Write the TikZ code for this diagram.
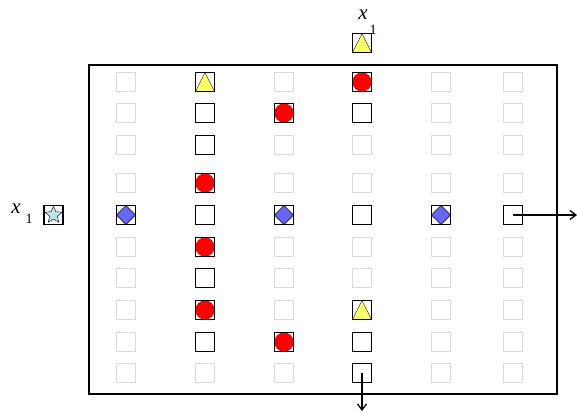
\documentclass[tikz,border=0pt]{standalone}
\usepackage{fontspec}
\setmainfont{Liberation Serif}
\usepackage{xcolor}
\usepackage{tikz}
\usetikzlibrary{arrows.meta,positioning,shapes.geometric}

\definecolor{cellgrey}{HTML}{DADADA}
\definecolor{triyellow}{HTML}{FFFF66}
\definecolor{diablue}{HTML}{6666FF}
\definecolor{starcyan}{HTML}{B8E4EA}

\begin{document}
\begin{tikzpicture}[x=1pt,y=-1pt,>={Straight Barb[length=6pt,width=9pt]},
  greycell/.style={draw=cellgrey,line width=1.7pt,minimum size=19pt,inner sep=0pt},
  blackcell/.style={draw=black,line width=1.1pt,fill=white,minimum size=19pt,inner sep=0pt},
  redcell/.style={blackcell,path picture={
      \fill[red] (path picture bounding box.center) circle (9.6pt);}},
  tricell/.style={blackcell,path picture={
      \filldraw[fill=triyellow,draw=black,line width=0.4pt]
        (path picture bounding box.south west) -- (path picture bounding box.south east)
        -- (path picture bounding box.north) -- cycle;}},
  diacell/.style={blackcell,path picture={
      \filldraw[fill=diablue,draw=black,line width=0.4pt]
        (path picture bounding box.north) -- (path picture bounding box.east)
        -- (path picture bounding box.south) -- (path picture bounding box.west) -- cycle;}},
  starcell/.style={blackcell,path picture={
      \node[star,star points=5,star point ratio=2.2,fill=starcyan,draw=black,line width=0.4pt,
        minimum size=18pt,inner sep=0pt] at (path picture bounding box.center) {};}},
  varname/.style={font=\fontsize{21}{22}\selectfont\itshape,inner sep=0pt},
  varsub/.style={font=\fontsize{14}{15}\selectfont,inner sep=0pt}
]
  \useasboundingbox (0,0) rectangle (577,413);

  % frame
  \draw[line width=1.6pt] (89,65) rectangle (557,394);

  % grid of cells
  \foreach \cx [count=\i] in {126,205,284,362,441,513}
    \foreach \ry [count=\j] in {82,113,145,183,215,247,278,310,342,373}
      \node[greycell] (g\j-\i) at (\cx,\ry) {};

  % marked cells
  \node[tricell]   (c1-2) at (g1-2) {};
  \node[redcell]   (c1-4) at (g1-4) {};
  \node[blackcell] (c2-2) at (g2-2) {};
  \node[redcell]   (c2-3) at (g2-3) {};
  \node[blackcell] (c2-4) at (g2-4) {};
  \node[blackcell] (c3-2) at (g3-2) {};
  \node[redcell]   (c4-2) at (g4-2) {};
  \node[diacell]   (c5-1) at (g5-1) {};
  \node[blackcell] (c5-2) at (g5-2) {};
  \node[diacell]   (c5-3) at (g5-3) {};
  \node[blackcell] (c5-4) at (g5-4) {};
  \node[diacell]   (c5-5) at (g5-5) {};
  \node[blackcell] (c5-6) at (g5-6) {};
  \node[redcell]   (c6-2) at (g6-2) {};
  \node[blackcell] (c7-2) at (g7-2) {};
  \node[redcell]   (c8-2) at (g8-2) {};
  \node[tricell]   (c8-4) at (g8-4) {};
  \node[blackcell] (c9-2) at (g9-2) {};
  \node[redcell]   (c9-3) at (g9-3) {};
  \node[blackcell] (c9-4) at (g9-4) {};
  \node[blackcell] (c10-4) at (g10-4) {};

  % inputs
  \node[tricell] (intop) at (362,43) {};
  \node[varname] (xtop) at (363,15) {x};
  \node[varsub] (stop) at (373,30) {1};
  \node[starcell] (inleft) at (53.5,215) {};
  \node[varname] (xleft) at (16,209) {x};
  \node[varsub] (sleft) at (29,219) {1};

  % outputs
  \coordinate (outright) at (577,215);
  \coordinate (outdown) at (362,411);
  \draw[->,line width=1.3pt] (c5-6.center) -- (outright);
  \draw[->,line width=1.3pt] (c10-4.center) -- (outdown);
\end{tikzpicture}
\end{document}
